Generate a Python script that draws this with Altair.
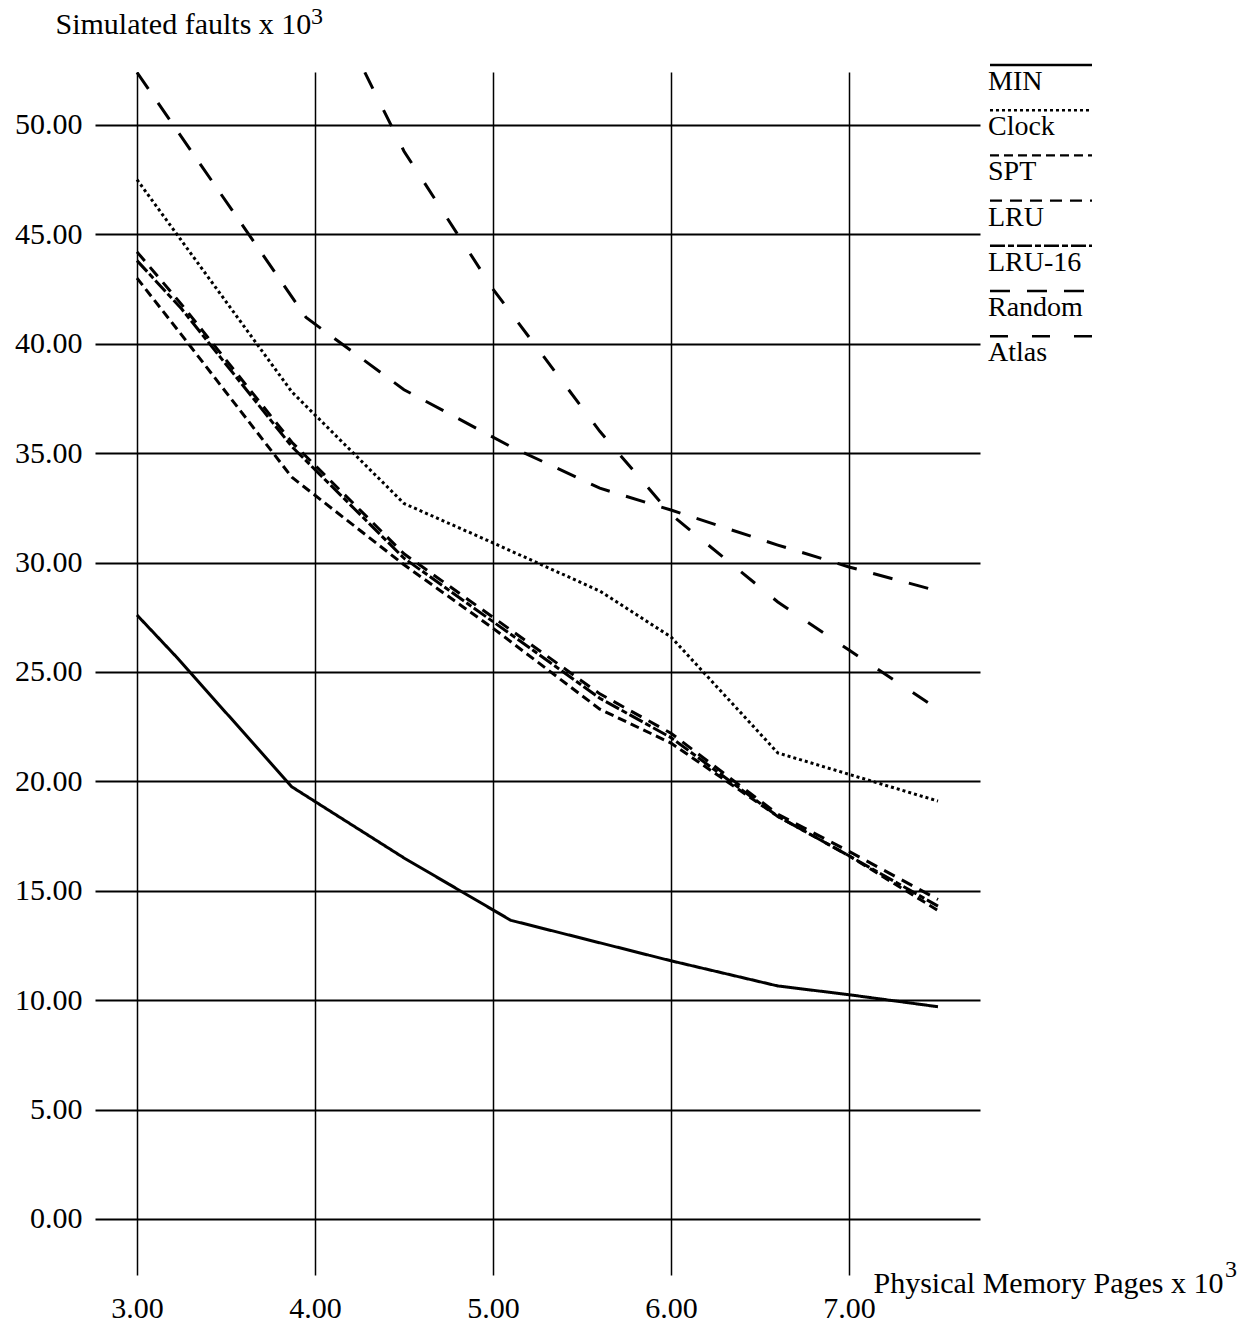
import altair as alt
import pandas as pd

# ---- data ----
series_names = ["MIN", "Clock", "SPT", "LRU", "LRU-16", "Random", "Atlas"]

min_x = [3.0, 3.22, 3.87, 4.5, 5.1, 6.0, 6.6, 7.0, 7.5]
min_y = [27.6, 25.7, 19.75, 16.5, 13.65, 11.8, 10.65, 10.25, 9.7]

clock_x = [3.0, 3.87, 4.5, 5.0, 5.6, 6.0, 6.6, 7.5]
clock_y = [47.5, 37.8, 32.7, 30.9, 28.7, 26.6, 21.3, 19.1]

spt_x = [3.0, 3.27, 3.87, 4.5, 5.0, 5.6, 6.0, 6.6, 7.0, 7.5]
spt_y = [43.0, 40.2, 33.9, 29.9, 27.0, 23.3, 21.75, 18.4, 16.6, 14.1]

lru_x = [3.0, 3.25, 3.87, 4.5, 5.0, 5.6, 6.0, 6.6, 7.0, 7.5]
lru_y = [44.2, 41.8, 35.5, 30.4, 27.5, 24.0, 22.2, 18.5, 16.8, 14.6]

lru16_x = [3.0, 3.25, 3.87, 4.5, 5.0, 5.6, 6.0, 6.6, 7.0, 7.5]
lru16_y = [43.8, 41.6, 35.3, 30.2, 27.3, 23.8, 22.0, 18.4, 16.6, 14.3]

random_x = [3.0, 3.95, 4.5, 5.1, 5.6, 6.0, 6.6, 7.0, 7.5]
random_y = [52.4, 41.2, 37.9, 35.3, 33.4, 32.4, 30.8, 29.8, 28.7]

atlas_x = [4.28, 4.5, 5.0, 5.6, 6.0, 6.6, 7.0, 7.5]
atlas_y = [52.4, 48.8, 42.5, 36.0, 32.2, 28.2, 26.0, 23.3]

x_ticks = [3, 4, 5, 6, 7]
y_ticks = [0, 5, 10, 15, 20, 25, 30, 35, 40, 45, 50]

y_title = "Simulated faults x 10"
x_title = "Physical Memory Pages x 10"
exponent = "3"

# ---- build tables ----
xs = [min_x, clock_x, spt_x, lru_x, lru16_x, random_x, atlas_x]
ys = [min_y, clock_y, spt_y, lru_y, lru16_y, random_y, atlas_y]
rows = []
for name, xl, yl in zip(series_names, xs, ys):
    for i, (a, b) in enumerate(zip(xl, yl)):
        rows.append({"series": name, "x": a, "y": b, "i": i})
df = pd.DataFrame(rows)

dashes = [[1, 0], [3, 3], [9, 5], [12, 8], [15, 3, 6, 3], [20, 17], [18, 24]]

X_DOM = [2.764, 7.736]
Y_DOM = [-2.56, 52.42]
PX_PER_Y = 21.88
PX_PER_X = 178.0

# legend laid out in data space to the right of the plot
leg_rows = []
for k, name in enumerate(series_names):
    ly = 52.74 - k * 45.2 / PX_PER_Y
    leg_rows.append({"series": name, "x0": 3 + (990 - 137) / PX_PER_X,
                     "x1": 3 + (1092 - 137) / PX_PER_X, "ly": ly})
leg = pd.DataFrame(leg_rows)

dash_scale = alt.Scale(domain=series_names, range=dashes)
xs_ = alt.Scale(domain=X_DOM, nice=False, zero=False)
ys_ = alt.Scale(domain=Y_DOM, nice=False, zero=False)

FONT = "Liberation Serif"
FS = 30

lines = alt.Chart(df).mark_line(color="black", strokeWidth=3, clip=True).encode(
    x=alt.X("x:Q", scale=xs_, axis=alt.Axis(
        values=x_ticks, format=".2f", grid=True, gridColor="black", gridWidth=1.5,
        gridOpacity=1, domain=False, ticks=False, labelPadding=18,
        labelFont=FONT, labelFontSize=FS, labelColor="black",
        title=x_title, titleFont=FONT, titleFontSize=FS,
        titleFontWeight="normal", titleColor="black", titleAnchor="start",
        titleAlign="left", titleBaseline="alphabetic", titleX=778, titleY=17)),
    y=alt.Y("y:Q", scale=ys_, axis=alt.Axis(
        values=y_ticks, format=".2f", grid=True, gridColor="black", gridWidth=2,
        gridOpacity=1, domain=False, ticks=False, labelPadding=13,
        labelFont=FONT, labelFontSize=FS, labelColor="black",
        title=y_title, titleFont=FONT, titleFontSize=FS,
        titleFontWeight="normal", titleColor="black", titleAngle=0,
        titleAlign="left", titleBaseline="alphabetic", titleX=-40, titleY=-39)),
    detail="series:N",
    strokeDash=alt.StrokeDash("series:N", scale=dash_scale, legend=None),
    order="i:Q",
)

leg_lines = alt.Chart(leg).mark_rule(color="black", strokeWidth=2.4).encode(
    x=alt.X("x0:Q", scale=xs_),
    x2="x1:Q",
    y=alt.Y("ly:Q", scale=ys_),
    strokeDash=alt.StrokeDash("series:N", scale=dash_scale, legend=None),
)

leg_text = alt.Chart(leg).mark_text(
    align="left", baseline="alphabetic", dy=25, dx=-2, font=FONT, fontSize=28,
    color="black").encode(
    x=alt.X("x0:Q", scale=xs_),
    y=alt.Y("ly:Q", scale=ys_),
    text="series:N",
)

# superscript exponents of the two axis titles
sup_df = pd.DataFrame({"t": [exponent]})
y_sup = alt.Chart(sup_df).mark_text(
    align="left", baseline="alphabetic", font=FONT, fontSize=24, color="black"
).encode(x=alt.value(216), y=alt.value(-48), text="t:N")
x_sup = alt.Chart(sup_df).mark_text(
    align="left", baseline="alphabetic", font=FONT, fontSize=24, color="black"
).encode(x=alt.value(1130), y=alt.value(1205), text="t:N")

chart = alt.layer(lines, leg_lines, leg_text, y_sup, x_sup).properties(
    width=885, height=1203,
    autosize=alt.AutoSizeParams(type="none"),
    padding={"left": 95, "top": 72, "right": 279, "bottom": 54},
    background="white",
).configure_view(stroke=None)

chart.save("out.html", embed_options={"renderer": "svg", "actions": False})
